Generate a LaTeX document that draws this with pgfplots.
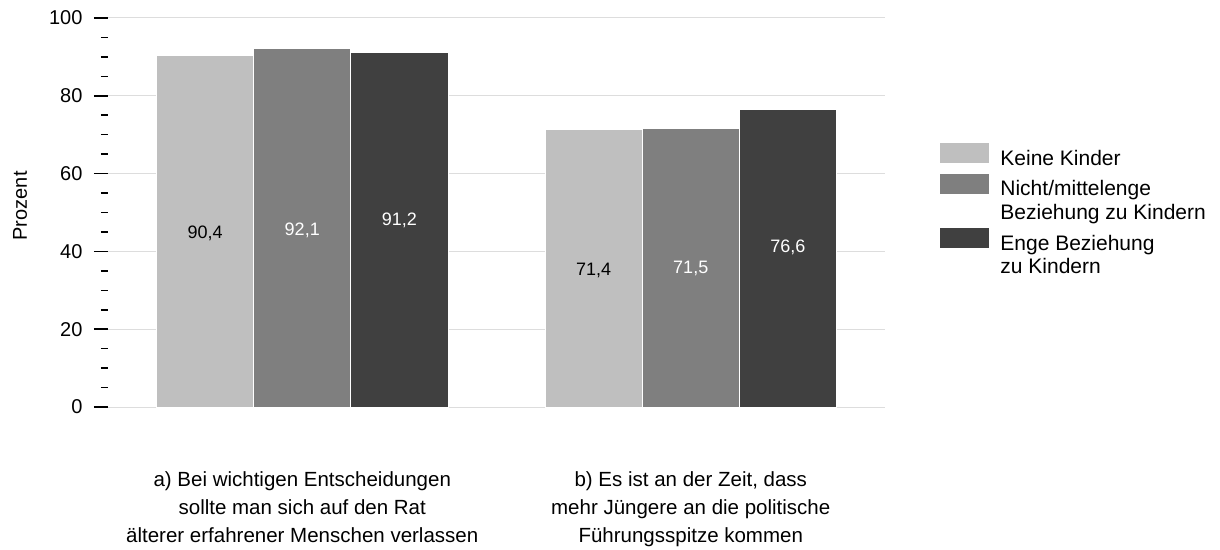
\documentclass[border=0pt]{standalone}
\usepackage{fontspec}
\setmainfont{Liberation Sans}
\usepackage{pgfplots}
\pgfplotsset{compat=1.18}
\definecolor{c1}{HTML}{BFBFBF}
\definecolor{c2}{HTML}{7F7F7F}
\definecolor{c3}{HTML}{404040}
\definecolor{gridc}{HTML}{DDDDDD}
\begin{document}
\begin{tikzpicture}
\path (-108pt,-140pt) rectangle (1112pt,407pt);
\begin{axis}[
  at={(0pt,0pt)}, anchor=south west,
  scale only axis, width=777pt, height=389pt,
  xmin=-0.5, xmax=1.5, ymin=0, ymax=100,
  axis line style={draw=none},
  xtick={0,1},
  xticklabels={{a) Bei wichtigen Entscheidungen\\[4pt]sollte man sich auf den Rat\\[4pt]älterer erfahrener Menschen verlassen},{b) Es ist an der Zeit, dass\\[4pt]mehr Jüngere an die politische\\[4pt]Führungsspitze kommen}},
  xticklabel style={align=center, font=\fontsize{20.5}{24}\selectfont, yshift=-47pt},
  major x tick style={draw=none},
  ytick={0,20,40,60,80,100},
  minor y tick num=3,
  ytick pos=left,
  tick align=outside,
  major tick length=14pt, minor tick length=7pt,
  ytick style={black, line width=1.5pt},
  minor y tick style={black, line width=1.5pt},
  ymajorgrids,
  major grid style={gridc, line width=1pt},
  /pgf/number format/assume math mode=true,
  yticklabel style={font=\fontsize{20}{24}\selectfont, xshift=-8pt},
  ylabel={Prozent},
  every axis y label/.style={at={(axis description cs:-0.113,0.517)}, anchor=center, rotate=90, font=\fontsize{20}{24}\selectfont},
  legend style={at={(axis description cs:1.0708,0.679)}, anchor=north west, draw=none, fill=none, inner sep=0pt, outer sep=0pt, row sep=4pt, font=\fontsize{21}{25}\selectfont,
    nodes={inner sep=0pt, text height=15pt, text depth=4.5pt}},
  legend cell align=left,
  legend image code/.code={\path (60pt,0pt); \path[#1, draw=none] (0pt,-3pt) rectangle (49pt,17pt);},
]
\addplot[ybar, bar width=0.25, bar shift=-0.25, fill=c1, draw=white, line width=0.8pt] coordinates {(0,90.4) (1,71.4)};
\addlegendentry{Keine Kinder}
\addplot[ybar, bar width=0.25, bar shift=0, fill=c2, draw=white, line width=0.8pt] coordinates {(0,92.1) (1,71.5)};
\addlegendentry{Nicht/mittelenge}
\addlegendimage{empty legend}
\addlegendentry{Beziehung zu Kindern}
\addplot[ybar, bar width=0.25, bar shift=0.25, fill=c3, draw=white, line width=0.8pt] coordinates {(0,91.2) (1,76.6)};
\addlegendentry{Enge Beziehung}
\addlegendimage{empty legend}
\addlegendentry{zu Kindern}
\addplot[draw=none, mark=none, forget plot, nodes near coords, point meta=explicit symbolic,
  every node near coord/.style={anchor=center, text=black, font=\fontsize{18}{20}\selectfont}]
  table[meta=l] {
x y l
-0.25 44.7 90,4
0.75 35.2 71,4
};
\addplot[draw=none, mark=none, forget plot, nodes near coords, point meta=explicit symbolic,
  every node near coord/.style={anchor=center, text=white, font=\fontsize{18}{20}\selectfont}]
  table[meta=l] {
x y l
0 45.5 92,1
0.25 48.1 91,2
1 35.5 71,5
1.25 41.1 76,6
};
\end{axis}
\end{tikzpicture}
\end{document}
